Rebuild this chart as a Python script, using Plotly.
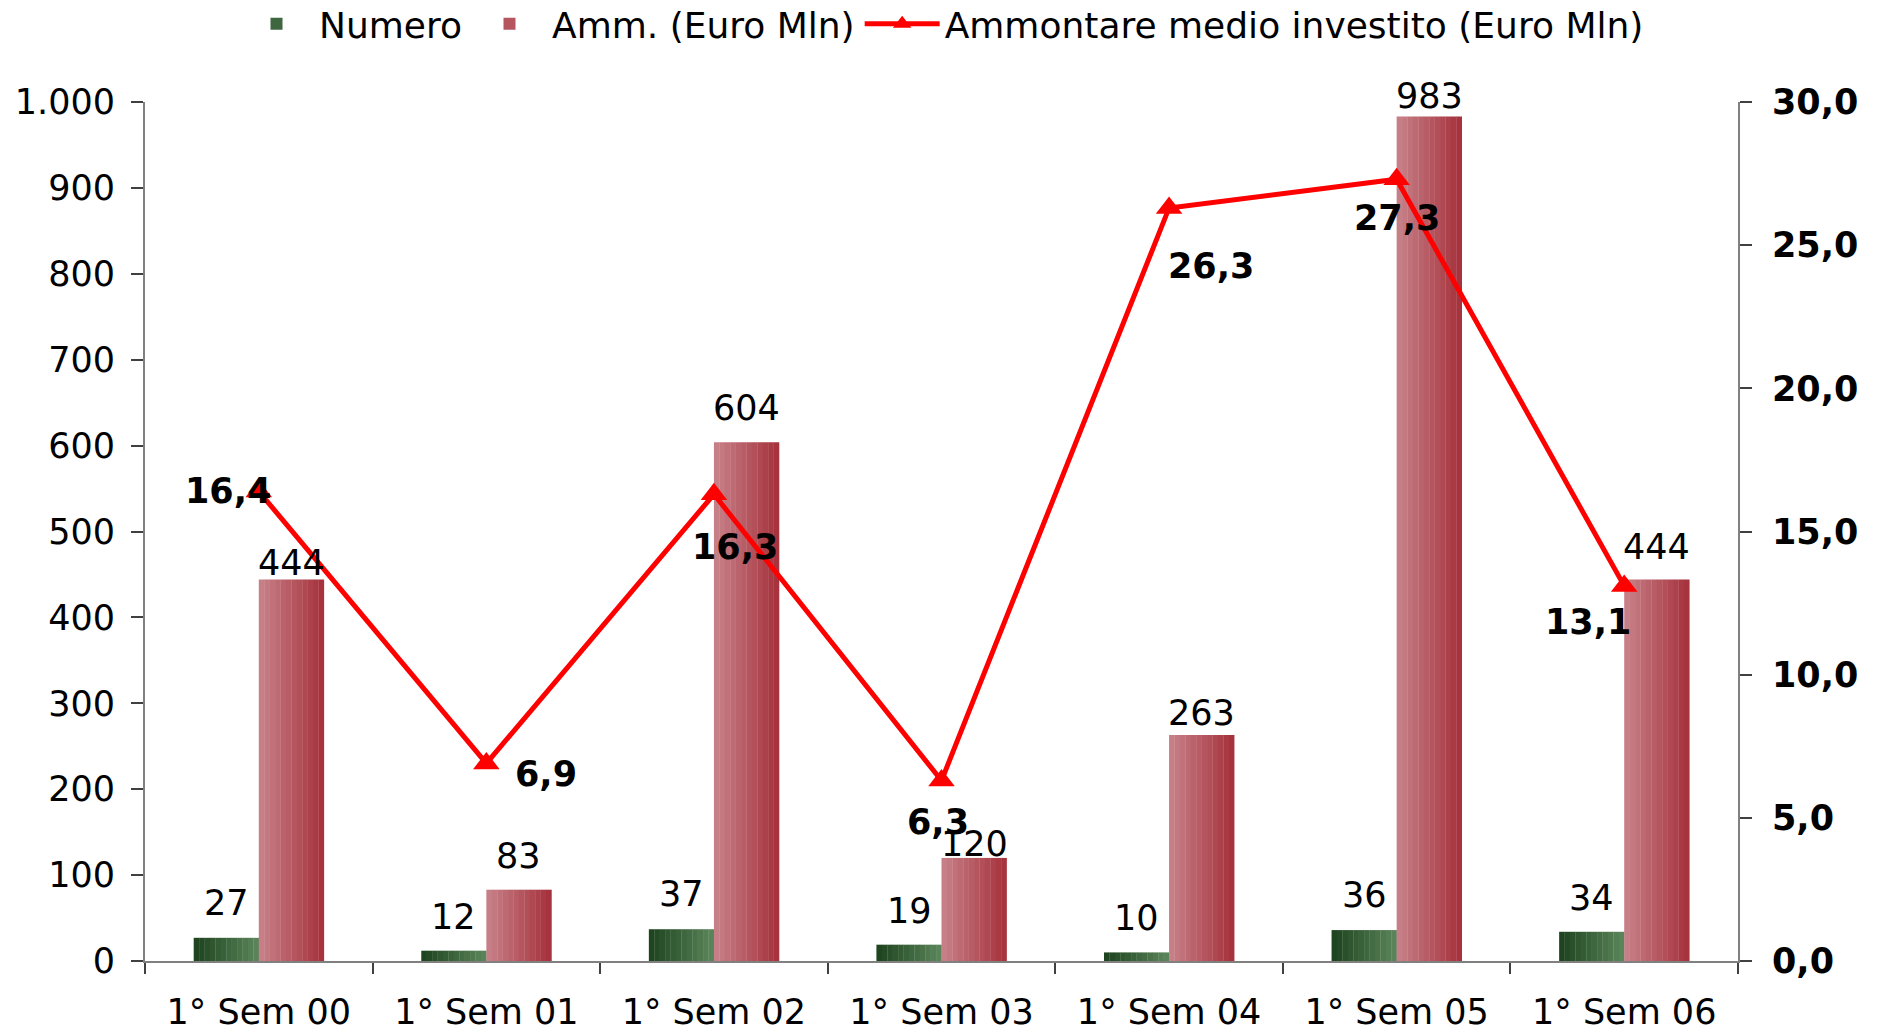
import plotly.graph_objects as go

# ---------------- data ----------------
categories = ["1° Sem 00", "1° Sem 01", "1° Sem 02", "1° Sem 03",
              "1° Sem 04", "1° Sem 05", "1° Sem 06"]
numero = [27, 12, 37, 19, 10, 36, 34]
ammontare = [444, 83, 604, 120, 263, 983, 444]
medio = [16.4, 6.9, 16.3, 6.3, 26.3, 27.3, 13.1]

left_ticks = [0, 100, 200, 300, 400, 500, 600, 700, 800, 900, 1000]
right_ticks = [0, 5, 10, 15, 20, 25, 30]

series_names = ["Numero", "Amm. (Euro Mln)", "Ammontare medio investito (Euro Mln)"]

# ---------------- style ----------------
FONT = "DejaVu Sans"
FS = 35
LEGEND_FS = 36
BAR_W = 0.286
N_STRIPS = 12
GREEN_L, GREEN_R = (0x1c, 0x42, 0x1d), (0x5c, 0x86, 0x5b)
RED_L, RED_R = (0xc9, 0x82, 0x8a), (0xa4, 0x30, 0x3a)
BAR_PX = 32.5  # half of bar width in pixels

green_label_shift = [35, 34, 35, 34, 34, 35, 34]
red_label_shift = [17, 34, 34, 14, 22, 21, 33]
line_label_shift = [(-31, 0), (60, -11), (21, -53), (-4, -41), (42, -58), (0, -39), (-36, -36)]


def mix(a, b, t):
    return "rgb(%d,%d,%d)" % tuple(round(a[i] + (b[i] - a[i]) * t) for i in range(3))


fig = go.Figure()

sw = BAR_W / N_STRIPS
for k in range(N_STRIPS):
    t = (k + 0.5) / N_STRIPS
    fig.add_trace(go.Bar(
        x=categories, y=numero, name=series_names[0],
        offset=-BAR_W + k * sw, width=sw * 1.05,
        marker=dict(color=mix(GREEN_L, GREEN_R, t), line=dict(width=0)),
        legendgroup="g", showlegend=(k == N_STRIPS // 2), hoverinfo="skip",
    ))
for k in range(N_STRIPS):
    t = (k + 0.5) / N_STRIPS
    fig.add_trace(go.Bar(
        x=categories, y=ammontare, name=series_names[1],
        offset=k * sw, width=sw * 1.05,
        marker=dict(color=mix(RED_L, RED_R, t), line=dict(width=0)),
        legendgroup="r", showlegend=(k == N_STRIPS // 2), hoverinfo="skip",
    ))

fig.add_trace(go.Scatter(
    x=categories, y=medio, name=series_names[2], yaxis="y2",
    mode="lines+markers",
    line=dict(color="#ff0000", width=5),
    marker=dict(symbol="triangle-up", size=23, color="#ff0000"),
))

annotations = []
for i, c in enumerate(categories):
    annotations.append(dict(x=c, y=numero[i], xref="x", yref="y", text=str(numero[i]),
                            showarrow=False, xshift=-BAR_PX, yshift=green_label_shift[i],
                            yanchor="middle", font=dict(family=FONT, size=FS, color="black")))
    annotations.append(dict(x=c, y=ammontare[i], xref="x", yref="y", text=str(ammontare[i]),
                            showarrow=False, xshift=BAR_PX, yshift=red_label_shift[i],
                            yanchor="middle", font=dict(family=FONT, size=FS, color="black")))
    dx, dy = line_label_shift[i]
    annotations.append(dict(x=c, y=medio[i], xref="x", yref="y2",
                            text=("%.1f" % medio[i]).replace(".", ","),
                            showarrow=False, xshift=dx, yshift=dy, yanchor="middle",
                            font=dict(family=FONT, size=FS, color="black", weight="bold")))

axis_line = dict(showline=True, linecolor="#808080", linewidth=2, showgrid=False, zeroline=False)

fig.update_layout(
    width=1883, height=1033,
    margin=dict(l=145, r=145, t=102, b=72, autoexpand=False),
    paper_bgcolor="white", plot_bgcolor="white",
    separators=",.",
    barmode="overlay",
    font=dict(family=FONT, size=FS, color="black"),
    legend=dict(orientation="h", x=0.5, xanchor="center", y=1.126, yanchor="top",
                font=dict(family=FONT, size=LEGEND_FS, color="black"), itemwidth=75,
                traceorder="normal"),
    xaxis=dict(**axis_line, type="category", range=[-0.5, 6.5],
               ticks="outside", ticklen=11, tickwidth=2, tickcolor="#404040",
               tickson="boundaries", ticklabelstandoff=19,
               tickfont=dict(family=FONT, size=FS, color="black")),
    xaxis2=dict(overlaying="x", anchor="y", range=[0, 7], tick0=0, dtick=1,
                ticks="inside", ticklen=11, tickwidth=2, tickcolor="#404040",
                showticklabels=False, showline=False, showgrid=False, zeroline=False),
    yaxis=dict(**axis_line, range=[0, 1000], tickvals=left_ticks, tickformat=",d",
               ticks="outside", ticklen=12, tickwidth=2, tickcolor="#404040",
               ticklabelstandoff=9,
               tickfont=dict(family=FONT, size=FS, color="black")),
    yaxis3=dict(overlaying="y", side="left", anchor="x", range=[0, 1000], tickvals=left_ticks,
                ticks="inside", ticklen=12, tickwidth=2, tickcolor="#404040",
                showticklabels=False, showline=False, showgrid=False, zeroline=False),
    yaxis2=dict(**axis_line, overlaying="y", side="right", anchor="x", range=[0, 30],
                tickvals=right_ticks, tickformat=".1f",
                ticks="outside", ticklen=12, tickwidth=2, tickcolor="#404040",
                ticklabelstandoff=13,
                tickfont=dict(family=FONT, size=FS, color="black", weight="bold")),
    yaxis4=dict(overlaying="y", side="right", anchor="x", range=[0, 30], tickvals=right_ticks,
                ticks="inside", ticklen=12, tickwidth=2, tickcolor="#404040",
                showticklabels=False, showline=False, showgrid=False, zeroline=False),
    annotations=annotations,
)

fig.write_html("out.html", config={"displayModeBar": False},
               post_script="document.body.style.margin='0';document.body.style.overflow='hidden';")
